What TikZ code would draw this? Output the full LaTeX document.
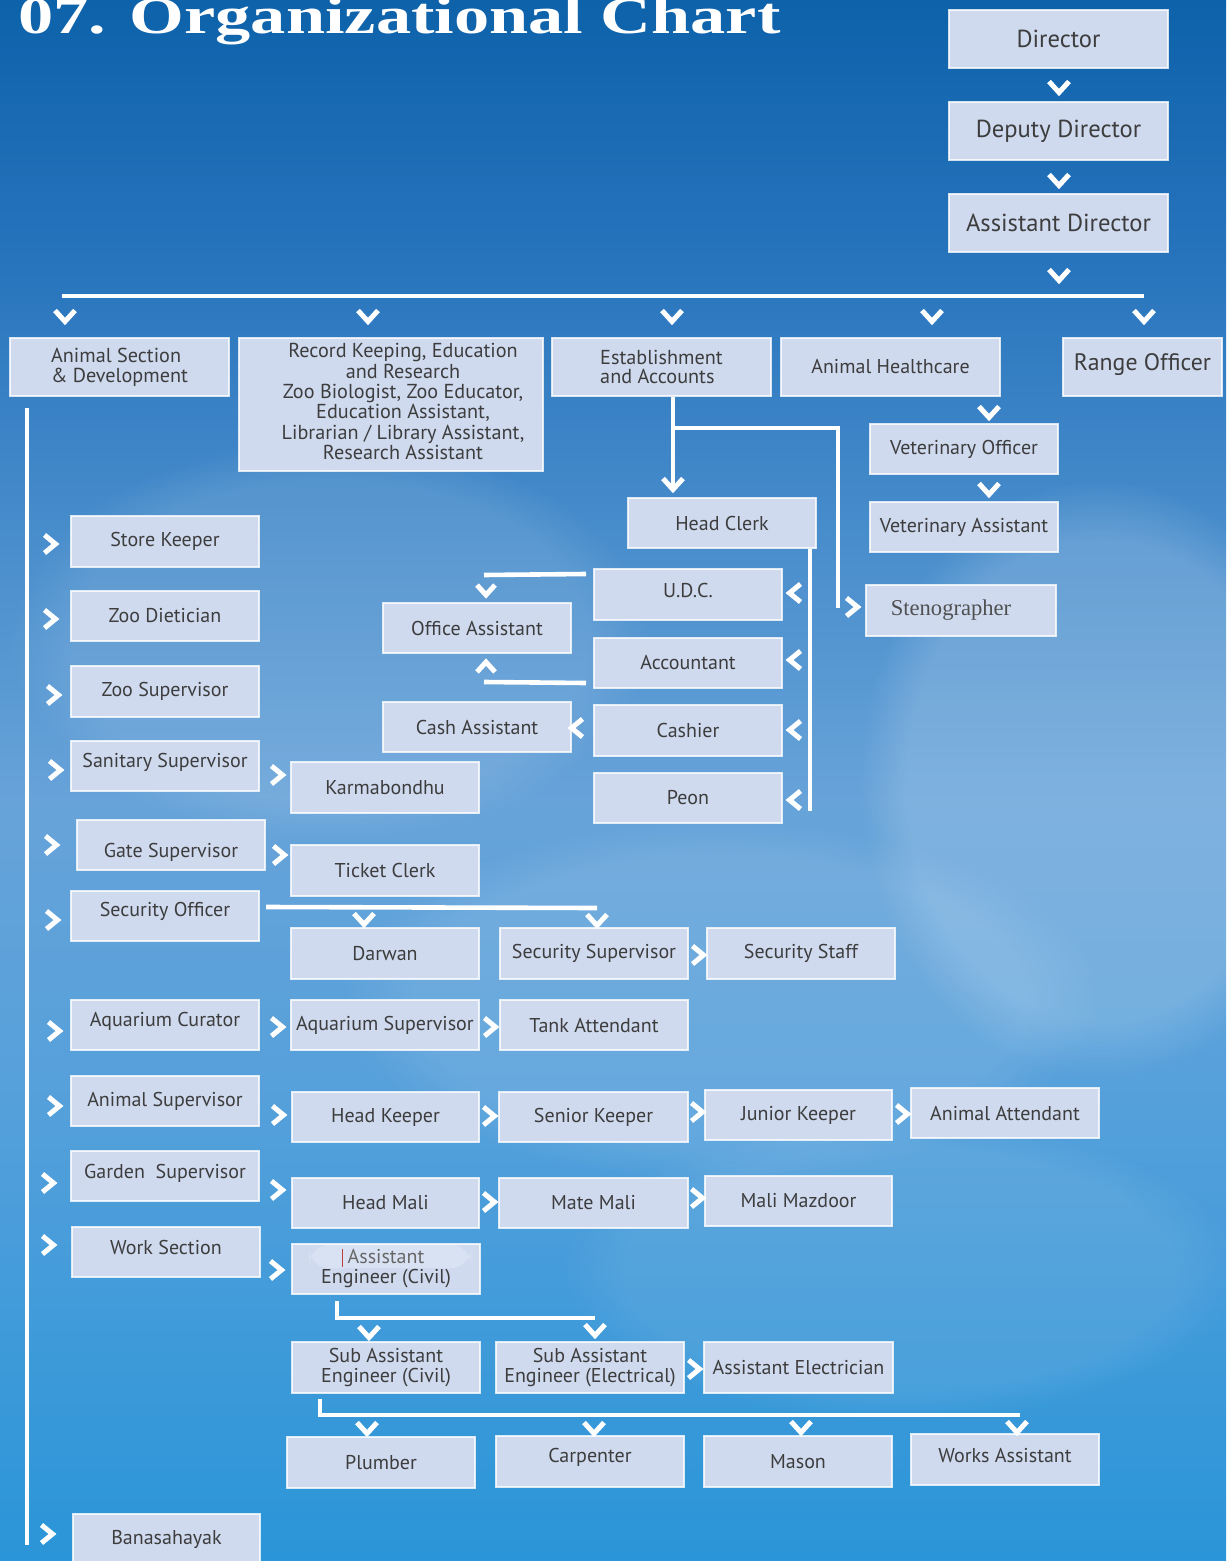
\documentclass[tikz,border=0pt]{standalone}
\usepackage{fontspec}
\setmainfont{PT Sans}
\newfontfamily\titlefont{Liberation Serif}
\newfontfamily\stenofont{Liberation Serif}
\usetikzlibrary{fadings}
\definecolor{boxfill}{HTML}{CFDAEF}
\definecolor{boxtext}{HTML}{3D3D3D}
\definecolor{sk1}{HTML}{0D62AA}
\definecolor{sk2}{HTML}{2673BC}
\definecolor{sk3}{HTML}{448ACA}
\definecolor{sk4}{HTML}{67A3D9}
\definecolor{sk5}{HTML}{55A0DB}
\definecolor{sk6}{HTML}{2A95D8}
\pgfdeclareverticalshading{sky}{100bp}{color(0bp)=(sk6); color(25bp)=(sk6); color(39.8bp)=(sk5); color(49.4bp)=(sk4); color(59bp)=(sk3); color(67bp)=(sk2); color(75bp)=(sk1); color(100bp)=(sk1)}
\tikzset{
  box/.style={draw=white, draw opacity=0.8, line width=1pt, fill=boxfill, text=boxtext,
    inner sep=0pt, align=center, font=\fontsize{10}{10}\selectfont},
  big/.style={font=\fontsize{12.3}{13}\selectfont},
  rofont/.style={font=\fontsize{11.9}{12}\selectfont},
  mid/.style={font=\fontsize{10.1}{9.9}\selectfont},
  conn/.style={draw=white, line width=2.3pt},
  chev/.style={draw=white, line width=2.5pt, line join=miter, line cap=butt},
  chd/.pic={\draw[chev] (-10,-5.5) -- (0,5.5) -- (10,-5.5);},
  chu/.pic={\draw[chev] (-10,5.5) -- (0,-5.5) -- (10,5.5);},
  chr/.pic={\draw[chev] (-5.5,-9) -- (5.5,0) -- (-5.5,9);},
  chl/.pic={\draw[chev] (5.5,-9) -- (-5.5,0) -- (5.5,9);},
  cloud/.style={fill=white, path fading=circle with fuzzy edge 20 percent}
}
% \bx[options]{name}{x1}{y1}{x2}{y2}{text}
\newcommand\bx[7][]{\node[box,#1,minimum width={(#5-#3)*0.5pt},minimum height={(#6-#4)*0.5pt}] (#2) at ({(#3+#5)/2},{(#4+#6)/2}) {#7};}
\newcommand\up[2]{\raisebox{#1}[\height][\depth]{#2}}
\begin{document}
\begin{tikzpicture}[x=0.5pt,y=-0.5pt]
\useasboundingbox (0,0) rectangle (1226,1561);
\shade[shading=sky] (0,0) rectangle (1226,1561);
% soft clouds
\fill[cloud, opacity=0.10] (330,640) ellipse (320 and 200);
\fill[cloud, opacity=0.16] (1100,780) ellipse (240 and 300);
\fill[cloud, opacity=0.10] (720,1000) ellipse (380 and 180);
\fill[cloud, opacity=0.08] (900,1270) ellipse (340 and 150);

% title
\node[anchor=base west, inner sep=0pt, text=white, font=\titlefont\bfseries\fontsize{26}{28}\selectfont] (title) at (18,34) {\scalebox{1.353}[1]{07. Organizational Chart}};

% top chain
\bx[big]{dir}{949}{10}{1168}{68}{Director}
\bx[big]{ddir}{949}{102}{1168}{160}{Deputy Director}
\bx[big]{adir}{949}{194}{1168}{252}{Assistant Director}

% level 2
\bx[mid,align=left]{asd}{10}{338}{229}{396}{Animal Section\\\& Development}
\bx[mid]{rk}{239}{338}{543}{471}{\hspace*{12pt}\begin{tabular}{@{}c@{}}Record Keeping, Education\\and Research\\Zoo Biologist, Zoo Educator,\\Education Assistant,\\Librarian / Library Assistant,\\Research Assistant\end{tabular}}
\bx[mid,align=left]{est}{552}{338}{771}{396}{Establishment\\and Accounts}
\bx{ah}{781}{338}{1000}{396}{Animal Healthcare}
\bx[rofont]{ro}{1063}{338}{1222}{396}{\up{1pt}{Range Officer}}

% animal healthcare branch
\bx{vo}{870}{424}{1058}{474}{Veterinary Officer}
\bx{va}{870}{502}{1058}{552}{Veterinary Assistant}

% establishment branch
\bx{hc}{628}{498}{816}{548}{Head Clerk}
\bx{udc}{594}{569}{782}{620}{\up{2pt}{U.D.C.}}
\bx{acc}{594}{638}{782}{688}{Accountant}
\bx{cas}{594}{705}{782}{756}{Cashier}
\bx{peon}{594}{773}{782}{823}{Peon}
\bx{oa}{383}{603}{571}{653}{Office Assistant}
\bx{ca}{383}{702}{571}{752}{Cash Assistant}
\bx[font=\stenofont\fontsize{11.3}{12}\selectfont,text=boxtext!90]{steno}{866}{585}{1056}{636}{\hspace*{-10pt}Stenographer}

% left column
\bx{sk}{71}{516}{259}{567}{Store Keeper}
\bx{zd}{71}{591}{259}{641}{Zoo Dietician}
\bx{zs}{71}{666}{259}{717}{Zoo Supervisor}
\bx{ss}{71}{741}{259}{791}{\up{2pt}{Sanitary Supervisor}}
\bx{gs}{77}{820}{265}{870}{\up{-3.5pt}{Gate Supervisor}}
\bx{so}{71}{891}{259}{941}{\up{2.5pt}{Security Officer}}
\bx{ac}{71}{1000}{259}{1050}{\up{2pt}{Aquarium Curator}}
\bx{ans}{71}{1076}{259}{1126}{Animal Supervisor}
\bx{gds}{71}{1151}{259}{1201}{\up{1.5pt}{Garden\ \ Supervisor}}
\bx{ws}{72}{1227}{260}{1277}{\up{2.5pt}{Work Section}}
\bx{bs}{73}{1514}{260}{1580}{\up{4pt}{Banasahayak}}

% second column and beyond
\bx{kb}{291}{762}{479}{813}{Karmabondhu}
\bx{tc}{291}{845}{479}{896}{Ticket Clerk}
\bx{dw}{291}{928}{479}{979}{Darwan}
\bx{secs}{500}{928}{688}{979}{Security Supervisor}
\bx{sst}{707}{928}{895}{979}{Security Staff}
\bx{aqs}{291}{1000}{479}{1050}{Aquarium Supervisor}
\bx{ta}{500}{1000}{688}{1050}{Tank Attendant}
\bx{hk}{292}{1092}{479}{1142}{Head Keeper}
\bx{snk}{499}{1092}{688}{1142}{Senior Keeper}
\bx{jk}{705}{1090}{892}{1140}{Junior Keeper}
\bx{aa}{911}{1088}{1099}{1138}{Animal Attendant}
\bx{hm}{292}{1178}{479}{1228}{Head Mali}
\bx{mm}{499}{1178}{688}{1228}{Mate Mali}
\bx{mz}{705}{1176}{892}{1226}{Mali Mazdoor}
\bx{ae}{292}{1244}{480}{1294}{Assistant\\Engineer (Civil)}
\bx{sac}{292}{1342}{480}{1393}{Sub Assistant\\Engineer (Civil)}
\bx{sae}{496}{1342}{684}{1393}{Sub Assistant\\Engineer (Electrical)}
\bx{ael}{704}{1342}{893}{1393}{Assistant Electrician}
\bx{pl}{287}{1437}{475}{1488}{Plumber}
\bx{cp}{496}{1436}{684}{1487}{\up{2pt}{Carpenter}}
\bx{ms}{704}{1436}{892}{1487}{Mason}
\bx{wa}{911}{1434}{1099}{1485}{\up{2pt}{Works Assistant}}

% highlight artefact on Assistant Engineer box
\fill[white, opacity=0.22, rounded corners=10pt] (309,1245) -- (471,1245) -- (471,1268) -- (309,1268) -- cycle;
\draw[red!50!gray, line width=0.5pt] (342,1249) -- (342,1267);

% connectors
\draw[conn] (62,296) -- (1144,296);
\draw[conn] (27,408) -- (27,1545);
\draw[conn] (est.south -| 673,0) -- (673,488);
\draw[conn] (673,428) -| (838,608);
\draw[conn] (hc.south -| 810,0) -- (810,811);
\draw[conn] (udc.north west) ++(-7,6) -- (484,575);
\draw[conn] (acc.south west) ++(-7,-6) -- (484,682);
\draw[conn] (so.north east) ++(6,17) -- (597,908);
\draw[conn] (ae.south west) ++(46,6) |- (595,1318);
\draw[conn] (sac.south west) ++(29,5) |- (1020,1415);

% chevrons down
\foreach \p in {(1059,87),(1059,180),(1059,275),(65,316),(368,316),(672,316),(932,316),(1144,316),
  (989,412),(989,489),(364,919),(597,920),(369,1332),(595,1330),(367,1428),(594,1428),(801,1427),(1017,1427),(673,484)}
  \pic at \p {chd};
\pic[scale=0.9] at (486,590) {chd};
\pic[scale=0.9] at (486,667) {chu};
% chevrons right
\foreach \p in {(50,544),(50,619),(53,695),(55,770),(51,845),(52,920),(54,1031),(54,1106),(48,1183),(48,1245),(47,1534),
  (277,775),(279,855),(698,955),(277,1027),(490,1027),(278,1115),(489,1116),(697,1112),(902,1114),
  (277,1190),(489,1202),(697,1198),(276,1270),(694,1369),(852,607)}
  \pic at \p {chr};
% chevrons left
\foreach \p in {(795,593),(795,660),(795,730),(795,800),(577,728)}
  \pic at \p {chl};
\end{tikzpicture}
\end{document}
